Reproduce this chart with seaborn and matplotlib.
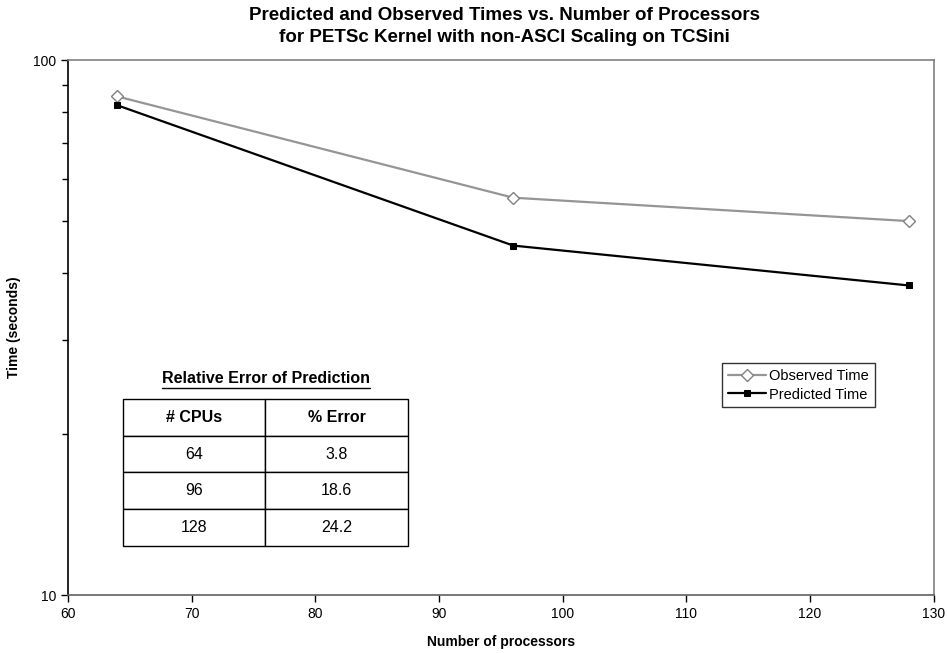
import matplotlib
matplotlib.use("Agg")
import matplotlib.pyplot as plt
import seaborn as sns
import pandas as pd

# data
processors = [64, 96, 128]
observed_time = [85.5, 55.3, 50.0]
predicted_time = [82.3, 45.0, 37.9]

table_cpus = ["64", "96", "128"]
table_error = ["3.8", "18.6", "24.2"]

df = pd.DataFrame({"processors": processors,
                   "observed": observed_time,
                   "predicted": predicted_time})

sns.set_style("ticks")
plt.rcParams['font.family'] = ['Liberation Sans', 'DejaVu Sans']
plt.rcParams['text.color'] = 'black'
plt.rcParams['axes.labelcolor'] = 'black'
plt.rcParams['xtick.color'] = 'black'
plt.rcParams['ytick.color'] = 'black'

fig = plt.figure(figsize=(9.47, 6.53), dpi=100)
ax = fig.add_axes([0.0718, 0.0888, 0.9142, 0.8192])

sns.lineplot(data=df, x="processors", y="observed", ax=ax,
             color="#959595", linewidth=1.6, marker="D", markersize=6,
             markerfacecolor="white", markeredgecolor="#808080",
             markeredgewidth=1.0, label="Observed Time")
sns.lineplot(data=df, x="processors", y="predicted", ax=ax,
             color="black", linewidth=1.6, marker="s", markersize=5,
             markerfacecolor="black", markeredgecolor="black",
             label="Predicted Time")

ax.set_yscale("log")
ax.set_ylim(10, 100)
ax.set_xlim(60, 130)
ax.set_xticks(range(60, 131, 10))
ax.set_yticks([10, 100])
ax.set_yticklabels(["10", "100"])
ax.set_yticks([20, 30, 40, 50, 60, 70, 80, 90], minor=True)
ax.yaxis.set_minor_formatter(matplotlib.ticker.NullFormatter())
ax.tick_params(axis='both', which='major', labelsize=10, length=5,
               width=1, direction='out', color='black', labelcolor='black')
ax.tick_params(axis='y', which='minor', length=4, width=1, color='black')

for side in ["left", "bottom"]:
    ax.spines[side].set_color("black")
    ax.spines[side].set_linewidth(1.2)
for side in ["top", "right"]:
    ax.spines[side].set_visible(True)
    ax.spines[side].set_color("#808080")
    ax.spines[side].set_linewidth(1.2)
ax.spines["bottom"].set_color("#606060")

ax.set_xlabel("Number of processors", fontsize=10, fontweight="bold", color="black")
ax.xaxis.set_label_coords(0.5, -0.075)
ax.set_ylabel("Time (seconds)", fontsize=10, fontweight="bold", color="black")
ax.yaxis.set_label_coords(-0.054, 0.5)

fig.suptitle("Predicted and Observed Times vs. Number of Processors\n"
             "for PETSc Kernel with non-ASCI Scaling on TCSini",
             fontsize=13.5, fontweight="bold", x=0.533, y=0.99, va="top",
             linespacing=1.45, color="black")

leg = ax.legend(loc="upper left", bbox_to_anchor=(0.756, 0.433),
                frameon=True, fancybox=False, fontsize=10.5,
                handlelength=2.6, handletextpad=0.2, borderpad=0.4,
                labelspacing=0.3, borderaxespad=0)
leg.get_frame().set_edgecolor("black")
leg.get_frame().set_linewidth(1.0)
for t in leg.get_texts():
    t.set_color("black")

# table of relative error
tbl = ax.table(cellText=[[c, e] for c, e in zip(table_cpus, table_error)],
               colLabels=["# CPUs", "% Error"], cellLoc="center",
               bbox=[0.0635, 0.0916, 0.329, 0.275])
tbl.auto_set_font_size(False)
tbl.set_fontsize(11.5)
for (r, c), cell in tbl.get_celld().items():
    cell.set_edgecolor("black")
    cell.set_linewidth(1.0)
    cell.get_text().set_color("black")
    if r == 0:
        cell.get_text().set_fontweight("bold")

ttl = ax.text(0.2286, 0.405, "Relative Error of Prediction", transform=ax.transAxes,
              ha="center", va="center", fontsize=11.5, fontweight="bold",
              color="black")
fig.canvas.draw()
bb = ttl.get_window_extent().transformed(ax.transAxes.inverted())
ax.plot([bb.x0, bb.x1], [bb.y0 - 0.004] * 2, transform=ax.transAxes,
        color="black", linewidth=1.0, clip_on=False)

plt.savefig("out.png", dpi=100)
